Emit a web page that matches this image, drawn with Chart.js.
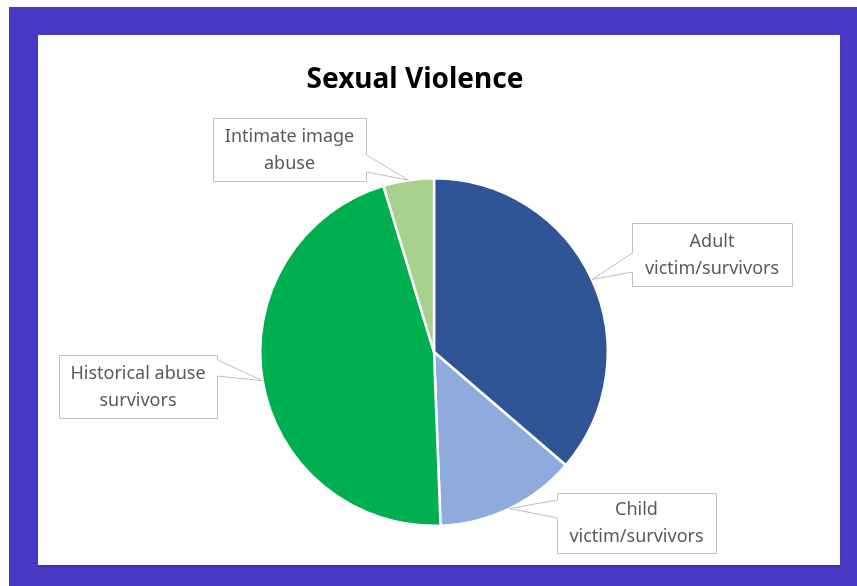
<!DOCTYPE html>
<html>
<head>
<meta charset="utf-8">
<script src="https://cdn.jsdelivr.net/npm/chart.js@4.4.0/dist/chart.umd.min.js"></script>
<style>
  html, body { margin: 0; padding: 0; background: #fff; }
  body { width: 857px; height: 586px; position: relative; overflow: hidden; }
  #frame { position: absolute; left: 9px; top: 7px; width: 848px; height: 579px; background: #493ac5; }
  #panel { position: absolute; left: 38px; top: 35px; width: 802px; height: 530px; background: #fff;
           box-shadow: 0 2px 2px rgba(0,0,0,0.18); }
  #panel canvas { position: absolute; left: 0; top: 0; }
</style>
</head>
<body>
<div id="frame"></div>
<div id="panel"><canvas id="chart" width="802" height="530"></canvas></div>
<script>
const chartTitle = "Sexual Violence";
const categories = ["Adult victim/survivors", "Child victim/survivors", "Historical abuse survivors", "Intimate image abuse"];
const values = [36.3, 13.1, 45.9, 4.7];
const colors = ["#2f5597", "#8faadc", "#00b050", "#a9d18e"];

// label text lines and callout boxes (x, y, w, h) plus the side the pointer leaves from
const labelLines = [
  ["Adult", "victim/survivors"],
  ["Child", "victim/survivors"],
  ["Historical abuse", "survivors"],
  ["Intimate image", "abuse"]
];
const labelBoxes = [
  { x: 594, y: 188, w: 160, h: 63, side: "left", a: 30, b: 49 },
  { x: 519, y: 458, w: 159, h: 60, side: "left", a: 7, b: 25 },
  { x: 21, y: 320, w: 158, h: 63, side: "right", a: 5, b: 21 },
  { x: 175, y: 83, w: 153, h: 63, side: "right", a: 37, b: 54 }
];

const FONT = "'Noto Sans', 'Open Sans', sans-serif";

// title + callout labels
const calloutPlugin = {
  id: "callouts",
  afterDraw(chart) {
    const ctx = chart.ctx;
    const arcs = chart.getDatasetMeta(0).data;

    ctx.save();
    ctx.fillStyle = "#000";
    ctx.font = "bold 28px " + FONT;
    ctx.textAlign = "center";
    ctx.textBaseline = "middle";
    ctx.fillText(chartTitle, 377, 45);

    arcs.forEach((arc, i) => {
      const p = arc.getProps(["x", "y", "startAngle", "endAngle", "outerRadius"], true);
      const mid = (p.startAngle + p.endAngle) / 2;
      const tx = p.x + Math.cos(mid) * p.outerRadius;
      const ty = p.y + Math.sin(mid) * p.outerRadius;
      const b = labelBoxes[i];

      ctx.beginPath();
      ctx.moveTo(b.x + 0.5, b.y + 0.5);
      ctx.lineTo(b.x + b.w + 0.5, b.y + 0.5);
      if (b.side === "right") {
        ctx.lineTo(b.x + b.w + 0.5, b.y + b.a);
        ctx.lineTo(tx, ty);
        ctx.lineTo(b.x + b.w + 0.5, b.y + b.b);
      }
      ctx.lineTo(b.x + b.w + 0.5, b.y + b.h + 0.5);
      ctx.lineTo(b.x + 0.5, b.y + b.h + 0.5);
      if (b.side === "left") {
        ctx.lineTo(b.x + 0.5, b.y + b.b);
        ctx.lineTo(tx, ty);
        ctx.lineTo(b.x + 0.5, b.y + b.a);
      }
      ctx.closePath();
      ctx.fillStyle = "#fff";
      ctx.fill();
      ctx.strokeStyle = "#bfbfbf";
      ctx.lineWidth = 1;
      ctx.stroke();

      ctx.fillStyle = "#595959";
      ctx.font = "18px " + FONT;
      const cx = b.x + b.w / 2;
      const cy = b.y + b.h / 2;
      ctx.fillText(labelLines[i][0], cx, cy - 13);
      ctx.fillText(labelLines[i][1], cx, cy + 14);
    });
    ctx.restore();
  }
};

new Chart(document.getElementById("chart"), {
  type: "pie",
  data: {
    labels: categories,
    datasets: [{
      data: values,
      backgroundColor: colors,
      borderColor: "#fff",
      borderWidth: 2.5
    }]
  },
  options: {
    responsive: false,
    animation: false,
    layout: { padding: { left: 221, right: 231, top: 142, bottom: 38 } },
    plugins: {
      legend: { display: false },
      title: { display: false },
      tooltip: { enabled: false }
    }
  },
  plugins: [calloutPlugin]
});
</script>
</body>
</html>
